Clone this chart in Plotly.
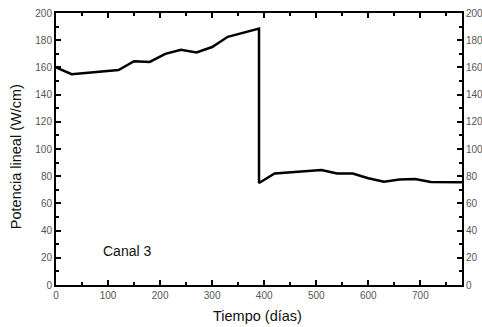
import plotly.graph_objects as go

# Linear power history of channel 3
tiempo = [0, 30, 120, 150, 180, 210, 240, 270, 300, 330, 390, 390, 420, 510, 540, 570, 600, 630, 660, 690, 720, 780]
potencia = [160, 155, 158, 164.5, 164, 170, 173, 171, 175, 182.5, 188.5, 75, 82, 84.5, 82, 82, 78.5, 76, 77.5, 78, 75.7, 75.5]

x_ticks = [0, 100, 200, 300, 400, 500, 600, 700]
y_ticks = [0, 20, 40, 60, 80, 100, 120, 140, 160, 180, 200]

tick_font = dict(family="Liberation Sans, Arial", size=10, color="#555555")
title_font = dict(family="Liberation Sans, Arial", size=14.5, color="#111111")

fig = go.Figure()
fig.add_trace(go.Scatter(
    x=tiempo, y=potencia, mode="lines",
    line=dict(color="black", width=2.5),
    showlegend=False,
))
# invisible trace to bring up the mirrored axes
fig.add_trace(go.Scatter(x=[0], y=[0], xaxis="x2", yaxis="y2",
                         mode="markers", marker=dict(opacity=0),
                         showlegend=False, hoverinfo="skip"))

common_x = dict(range=[0, 780], tickvals=x_ticks, ticks="inside", ticklen=5,
                tickwidth=1.5, tickcolor="black", showgrid=False, zeroline=False,
                showline=True, linecolor="black", linewidth=2, automargin=False,
                minor=dict(dtick=50, tick0=0, ticks="inside", ticklen=3,
                           tickwidth=1.5, tickcolor="black", showgrid=False))
common_y = dict(range=[0, 200], tickvals=y_ticks, ticks="inside", ticklen=5,
                tickwidth=1.5, tickcolor="black", showgrid=False, zeroline=False,
                showline=True, linecolor="black", linewidth=2, automargin=False,
                minor=dict(dtick=10, tick0=0, ticks="inside", ticklen=3,
                           tickwidth=1.5, tickcolor="black", showgrid=False))

fig.update_layout(
    width=482, height=327,
    margin=dict(l=56, r=20, t=13, b=42),
    plot_bgcolor="white", paper_bgcolor="white",
    xaxis=dict(**common_x, tickfont=tick_font),
    yaxis=dict(**common_y, tickfont=tick_font),
    xaxis2=dict(**common_x, overlaying="x", side="top", showticklabels=False),
    yaxis2=dict(**common_y, overlaying="y", side="right", tickfont=tick_font),
    annotations=[
        dict(x=137, y=25, xref="x", yref="y", text="Canal 3", showarrow=False,
             font=dict(family="Liberation Sans, Arial", size=14, color="#111111")),
        dict(x=0.497, y=-0.114, xref="paper", yref="paper", text="Tiempo (días)",
             showarrow=False, xanchor="center", yanchor="middle", font=title_font),
        dict(x=-0.0985, y=0.47, xref="paper", yref="paper",
             text="Potencia lineal (W/cm)", textangle=-90, showarrow=False,
             xanchor="center", yanchor="middle", font=title_font),
    ],
)

fig.write_html("out.html")
